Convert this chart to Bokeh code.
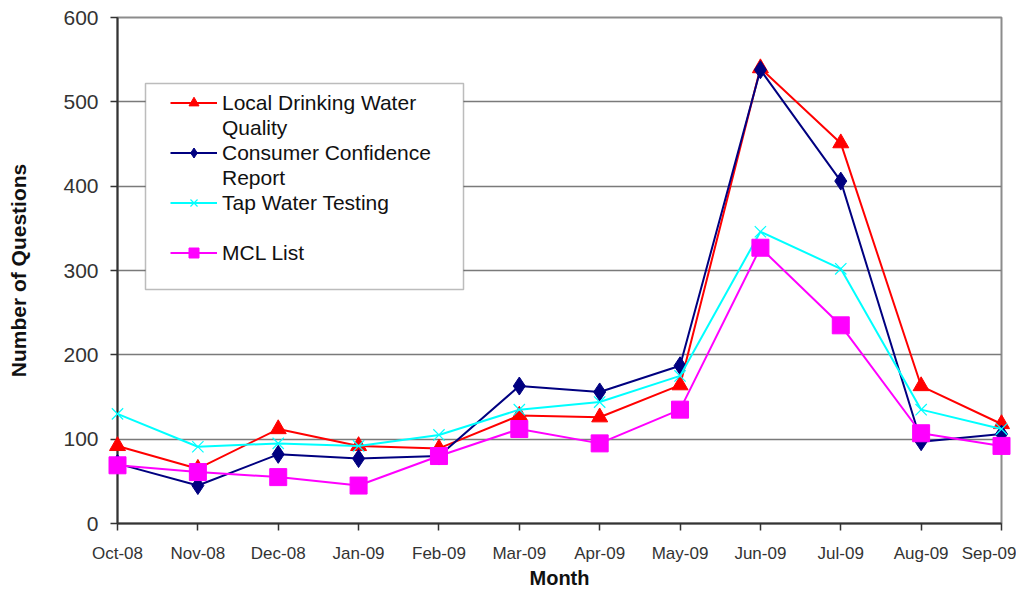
from bokeh.plotting import figure
from bokeh.models import Range1d, FixedTicker, Legend, LegendItem, BoxAnnotation
from bokeh.embed import file_html
from bokeh.resources import INLINE

months = ["Oct-08", "Nov-08", "Dec-08", "Jan-09", "Feb-09", "Mar-09",
          "Apr-09", "May-09", "Jun-09", "Jul-09", "Aug-09", "Sep-09"]
local_water = [92, 65, 112, 92, 89, 128, 126, 164, 540, 451, 163, 118]
ccr = [71, 45, 82, 77, 80, 163, 156, 187, 538, 406, 97, 106]
tap_testing = [130, 91, 95, 92, 105, 135, 144, 175, 346, 302, 135, 112]
mcl_list = [69, 61, 55, 45, 80, 112, 95, 135, 327, 235, 107, 92]

# legend rows: (first line, continuation line or None)
legend_rows = [("Local Drinking Water", "Quality"),
               ("Consumer Confidence", "Report"),
               ("Tap Water Testing", " "),
               ("MCL List", None)]

x = list(range(len(months)))
FONT = "Liberation Sans"

p = figure(width=1016, height=591, output_backend="svg", toolbar_location=None,
           x_range=Range1d(0, len(months) - 1), y_range=Range1d(0, 600),
           min_border_left=117, min_border_right=15, min_border_top=17,
           min_border_bottom=66)
p.background_fill_color = "white"
p.border_fill_color = "white"
p.outline_line_color = "#8c8c8c"
p.outline_line_width = 2

# axes
p.xaxis.ticker = FixedTicker(ticks=x)
p.xaxis.major_label_overrides = {i: m for i, m in enumerate(months)}
p.yaxis.ticker = FixedTicker(ticks=[0, 100, 200, 300, 400, 500, 600])
for ax in (p.xaxis[0], p.yaxis[0]):
    ax.axis_line_color = "#333333"
    ax.axis_line_width = 2
    ax.major_tick_line_color = "#333333"
    ax.major_tick_line_width = 1.5
    ax.major_tick_in = 0
    ax.major_tick_out = 7
    ax.minor_tick_line_color = None
    ax.major_label_text_font = FONT
    ax.major_label_text_color = "#333333"
    ax.axis_label_text_font = FONT
    ax.axis_label_text_font_style = "bold"
    ax.axis_label_text_color = "#111111"
p.xaxis.major_label_text_font_size = "17px"
p.yaxis.major_label_text_font_size = "21px"
p.xaxis.major_label_standoff = 13
p.yaxis.major_label_standoff = 12
p.xaxis.axis_label = "Month"
p.yaxis.axis_label = "Number of Questions"
p.xaxis.axis_label_text_font_size = "20px"
p.yaxis.axis_label_text_font_size = "21px"
p.xaxis.axis_label_standoff = 1
p.yaxis.axis_label_standoff = 30

p.xgrid.grid_line_color = None
p.ygrid.grid_line_color = "#7a7a7a"
p.ygrid.grid_line_width = 1.5

specs = [
    (local_water, "#ff0000", "triangle", 16),
    (ccr, "#000080", "diamond", 18),
    (tap_testing, "#00ffff", "x", 16),
    (mcl_list, "#ff00ff", "square", 17),
]
renderers = []
for vals, color, marker, size in specs:
    lr = p.line(x, vals, line_color=color, line_width=2, level="overlay")
    sr = p.scatter(x, vals, marker=marker, size=size, fill_color=color,
                   line_color=color, line_width=1.2 if marker == "x" else 1,
                   level="overlay")
    renderers.append([lr, sr])

# invisible renderer used for the continuation lines of legend labels
blank = p.line(x=[], y=[], line_alpha=0)

items = []
for (first, second), rs in zip(legend_rows, renderers):
    items.append(LegendItem(label=first, renderers=rs))
    if second is not None:
        items.append(LegendItem(label=second, renderers=[blank]))

# legend frame
box = BoxAnnotation(left=28, right=346, top=440, bottom=234,
                    left_units="screen", right_units="screen",
                    top_units="screen", bottom_units="screen",
                    fill_color="white", fill_alpha=1,
                    line_color="#222222", line_width=1.5)
p.add_layout(box)

legend = Legend(items=items, location=(53, 258), orientation="vertical")
legend.label_text_font = FONT
legend.label_text_font_size = "21px"
legend.label_text_color = "#111111"
legend.label_standoff = 5
legend.label_height = 25
legend.glyph_width = 47
legend.glyph_height = 25
legend.spacing = 0
legend.padding = 0
legend.margin = 0
legend.border_line_color = None
legend.background_fill_alpha = 0
p.add_layout(legend, "center")

open("out.html", "w").write(file_html(p, INLINE))
